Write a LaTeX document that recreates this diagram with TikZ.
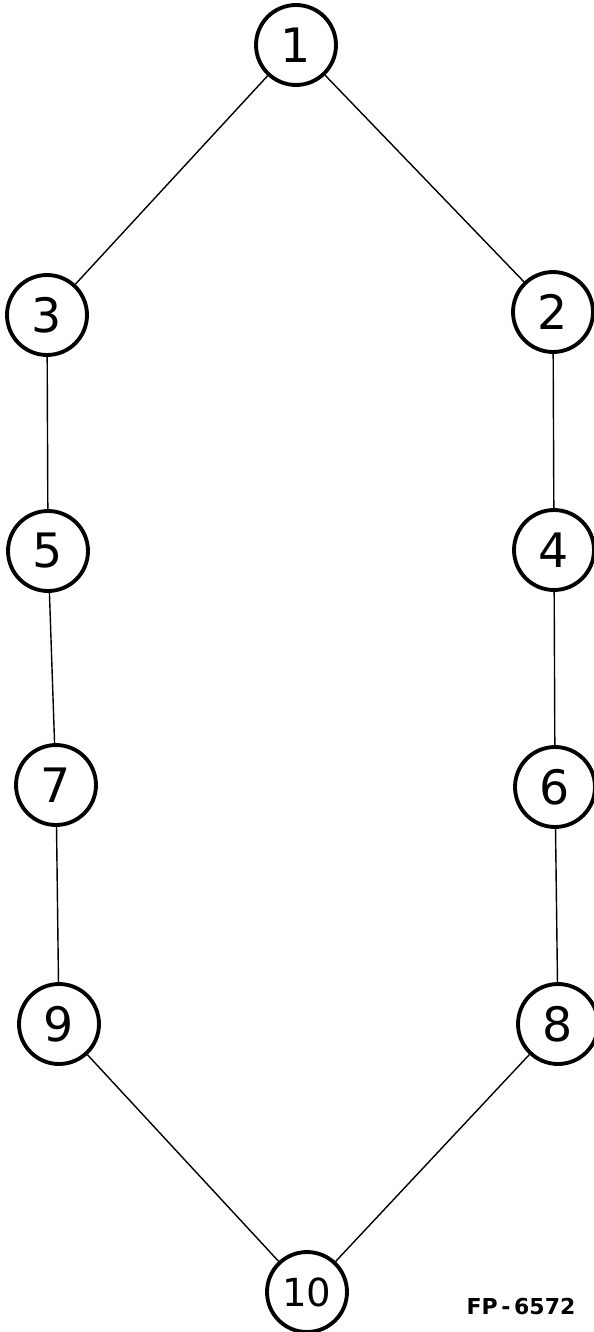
\documentclass[tikz,border=0pt]{standalone}
\usepackage{fontspec}
\setmainfont{DejaVu Sans}
\usepackage{tikz}
\usetikzlibrary{positioning}

\begin{document}
\begin{tikzpicture}[x=0.02cm,y=-0.02cm,
  vtx/.style={draw,circle,line width=2.2pt,minimum size=1.6cm,inner sep=0pt,font=\fontsize{27}{27}\selectfont},
  link/.style={line width=0.8pt}]
\useasboundingbox (0,0) rectangle (593,1332);
\node[vtx] (n1) at (296,45) {1};
\node[vtx] (n3) at (47,315) {3};\node[vtx] (n2) at (553,312) {2};
\node[vtx] (n5) at (48,551) {5};\node[vtx] (n4) at (554,550) {4};
\node[vtx] (n7) at (56,785) {7};\node[vtx] (n6) at (555,787) {6};
\node[vtx] (n9) at (59,1024) {9};\node[vtx] (n8) at (558,1024) {8};
\node[vtx,font=\fontsize{22}{22}\selectfont] (n10) at (307,1292) {10};
\node[font=\bfseries\fontsize{12.5}{12.5}\selectfont] (fp) at (521,1306) {FP\,-\,6572};
\draw[link] (n1) -- (n3) -- (n5) -- (n7) -- (n9) -- (n10);
\draw[link] (n1) -- (n2) -- (n4) -- (n6) -- (n8) -- (n10);
\end{tikzpicture}
\end{document}
